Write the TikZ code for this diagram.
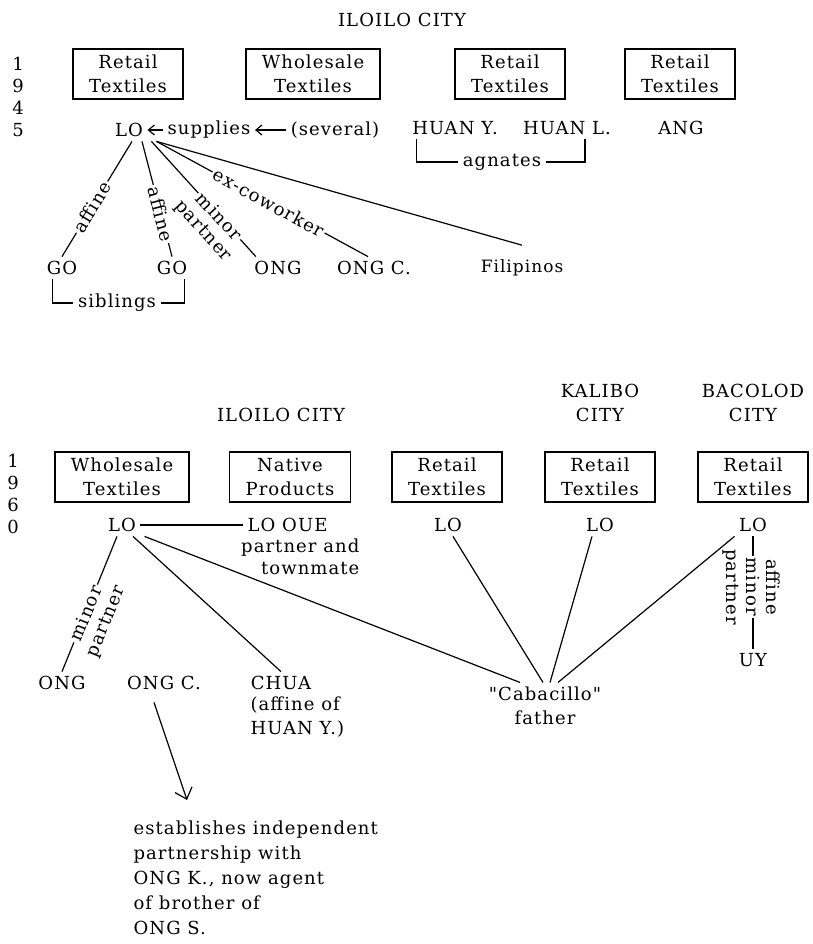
\documentclass[tikz,border=0pt]{standalone}
\usepackage{fontspec}
\newfontfamily\diagfont{DejaVu Serif}[LetterSpace=6]
\usetikzlibrary{calc,arrows.meta}
\begin{document}
\begin{tikzpicture}[x=0.5pt,y=-0.5pt,semithick,>={Straight Barb[length=3pt,width=5pt]},
    every node/.style={font=\diagfont\fontsize{9}{12}\selectfont,inner sep=2pt},
    box/.style={draw,thick,align=center,minimum height=25pt,inner xsep=8pt},
    rel/.style={sloped,fill=white,inner sep=1pt},
    relbelow/.style={sloped,anchor=north,inner xsep=0pt,inner ysep=7pt},
    small/.style={font=\diagfont\fontsize{8.5}{10}\selectfont}]
  \useasboundingbox (0,0) rectangle (813,944);
  % 1945
  \node at (402,20) {ILOILO CITY};
  \node[align=center,font=\diagfont\fontsize{9}{11}\selectfont] at (18,97) {1\\9\\4\\5};
  \node[box] (rt1) at (128,74) {Retail\\Textiles};
  \node[box] (wt1) at (313,74) {Wholesale\\Textiles};
  \node[box] (rt2) at (510,74) {Retail\\Textiles};
  \node[box] (rt3) at (680,74) {Retail\\Textiles};
  \node (lo) at (129,130) {LO};
  \node (sup) at (209,130) {supplies};
  \node (sev) at (335,130) {(several)};
  \draw[->] (sup) -- (lo);
  \draw[->] (sev) -- (sup);
  \node (huany) at (455,128) {HUAN Y.};
  \node (huanl) at (567,128) {HUAN L.};
  \node (ang) at (681,128) {ANG};
  \node (agn) at (502,162) {agnates};
  \draw ($(huany.south west)+(9,0)$) |- (agn);
  \draw ($(huanl.south)+(18,0)$) |- (agn);
  \node (go1) at (62,268) {GO};
  \node (go2) at (172,268) {GO};
  \node (ong) at (278,268) {ONG};
  \node (ongc) at (374,268) {ONG C.};
  \node[small] (fil) at (522,268) {Filipinos};
  \node (sib) at (117,303) {siblings};
  \draw ($(go1.south west)+(10,0)$) |- (sib);
  \draw ($(go2.south east)+(-7,0)$) |- (sib);
  \draw ($(lo.south)+(3,0)$) -- (go1.north) node[rel,pos=.57] {affine};
  \draw ($(lo.south)+(13,0)$) -- (go2.north) node[rel,pos=.63] {affine};
  \draw ($(lo.south east)+(4,0)$) -- ($(ong.north west)+(6,0)$)
    node[rel,pos=.65] {minor} node[relbelow,pos=.65] {partner};
  \draw ($(lo.south east)+(9,0)$) -- ($(ongc.north)+(-6,0)$) node[rel,pos=.53] {ex-coworker};
  \draw ($(lo.south east)+(9,0)$) -- ($(fil.north)+(0,-10)$);
  % 1960
  \node at (281,415) {ILOILO CITY};
  \node[align=center] at (600,403) {KALIBO\\CITY};
  \node[align=center] at (753,403) {BACOLOD\\CITY};
  \node[align=center,font=\diagfont\fontsize{9}{11}\selectfont] at (13,494) {1\\9\\6\\0};
  \node[box] (wt2) at (122,477) {Wholesale\\Textiles};
  \node[box] (np) at (290,477) {Native\\Products};
  \node[box] (rt4) at (447,477) {Retail\\Textiles};
  \node[box] (rt5) at (600,477) {Retail\\Textiles};
  \node[box] (rt6) at (753,477) {Retail\\Textiles};
  \node (lo1) at (122,525) {LO};
  \node[anchor=west] (loue) at (243,525) {LO OUE};
  \node[anchor=north east,align=right,inner sep=0pt,font=\diagfont\fontsize{9}{11}\selectfont] (ptm) at (360,538) {partner and\\townmate};
  \draw (lo1) -- (loue);
  \node (lo2) at (448,525) {LO};
  \node (lo3) at (600,525) {LO};
  \node (lo4) at (753,525) {LO};
  \node (uy) at (753,660) {UY};
  \draw (lo4) -- (uy)
    node[pos=.45,rotate=-90,fill=white,inner sep=1pt] {minor}
    node[pos=.45,rotate=-90,anchor=south,inner xsep=0pt,inner ysep=6.5pt] {affine}
    node[pos=.45,rotate=-90,anchor=north,inner xsep=0pt,inner ysep=7pt] {partner};
  \node (ong2) at (62,683) {ONG};
  \node (ongc2) at (164,683) {ONG C.};
  \node (chua) at (281,683) {CHUA};
  \node[anchor=north west,align=left,inner sep=0pt] (chuanote) at (250,696) {(affine of\\HUAN Y.)};
  \node[align=center] (cab) at (545,706) {"Cabacillo"\\father};
  \draw ($(lo1.south)+(-5,0)$) -- (ong2.north)
    node[rel,pos=.57] {minor} node[relbelow,pos=.57] {partner};
  \draw ($(lo1.south)+(11,0)$) -- (chua.north);
  \draw ($(lo1.south east)+(4,0)$) -- ($(cab.north)+(-25,0)$);
  \draw ($(lo2.south)+(5,0)$) -- ($(cab.north)+(-2,0)$);
  \draw ($(lo3.south)+(-8,0)$) -- ($(cab.north)+(5,0)$);
  \draw (lo4.south west) -- ($(cab.north)+(13,0)$);
  \node[anchor=north west,align=left,inner sep=0pt,font=\diagfont\fontsize{9}{12.5}\selectfont] (est) at (133,820)
    {establishes independent\\partnership with\\ONG K., now agent\\of brother of\\ONG S.};
  \draw[-{Straight Barb[length=5pt,width=9pt]}] ($(ongc2.south)+(-10,8)$) -- ($(est.north west)+(54,-20)$);
\end{tikzpicture}
\end{document}
